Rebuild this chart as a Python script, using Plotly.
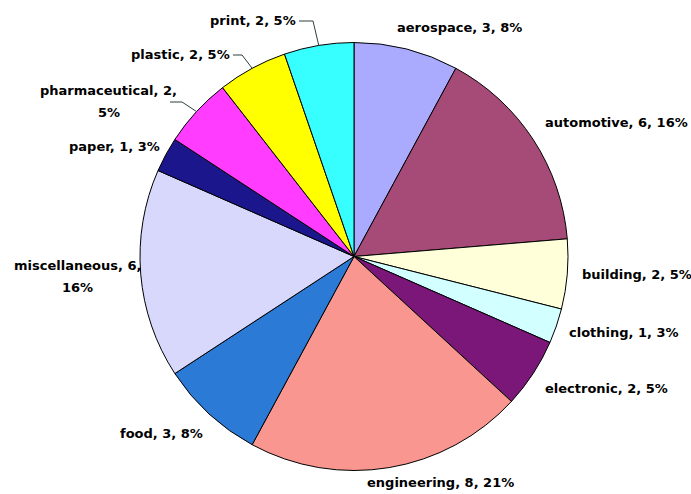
import math
import plotly.graph_objects as go

# Number of companies per industry sector
sectors = ["aerospace", "automotive", "building", "clothing", "electronic",
           "engineering", "food", "miscellaneous", "paper", "pharmaceutical",
           "plastic", "print"]
counts = [3, 6, 2, 1, 2, 8, 3, 6, 1, 2, 2, 2]

colors = ["#AAAAFF", "#A64A78", "#FFFFDA", "#D2FFFF", "#7B1778", "#FA9690",
          "#2B7BD6", "#D8D8FC", "#1C168C", "#FF3CFF", "#FFFF00", "#38FFFF"]

W, H = 691, 494
CX, CY, R = 354, 256.5, 214  # pie centre and radius in pixels

# label placement: (x px, y px of first line, x anchor, wrap after 2nd comma, leader elbow x)
label_layout = {
    "aerospace":      (459.5, 28, "center", False, None),
    "automotive":     (543, 123, "left", False, None),
    "building":       (580, 274, "left", False, None),
    "clothing":       (567, 332, "left", False, None),
    "electronic":     (543, 388, "left", False, None),
    "engineering":    (440.5, 482, "center", False, None),
    "food":           (205, 433, "right", False, None),
    "miscellaneous":  (77.5, 265, "center", True, None),
    "paper":          (162, 146, "right", False, None),
    "pharmaceutical": (108.5, 90, "center", True, 182),
    "plastic":        (232, 54, "right", False, 242),
    "print":          (298, 20, "right", False, 313),
}
LINE_PITCH = 22
FONT = dict(family="DejaVu Sans", size=13, color="#000000")


def px(x):
    return x / W


def py(y):
    return 1 - y / H


total = sum(counts)

fig = go.Figure(go.Pie(
    labels=sectors,
    values=counts,
    sort=False,
    direction="clockwise",
    rotation=0,
    textinfo="none",
    hoverinfo="label+value+percent",
    marker=dict(colors=colors, line=dict(color="#000000", width=1)),
    domain=dict(x=[px(CX - R), px(CX + R)], y=[py(CY + R), py(CY - R)]),
    showlegend=False,
))

annotations = []
shapes = []
cum = 0
for name, val in zip(sectors, counts):
    mid = (cum + val / 2) / total * 2 * math.pi
    cum += val
    pct = round(val / total * 100)
    x, y, anchor, wrap, elbow = label_layout[name]
    if wrap:
        lines = [f"{name}, {val},", f"{pct}%"]
    else:
        lines = [f"{name}, {val}, {pct}%"]
    for i, line in enumerate(lines):
        annotations.append(dict(
            x=px(x), y=py(y + i * LINE_PITCH), xref="paper", yref="paper",
            text=f"<b>{line}</b>", showarrow=False, font=FONT,
            xanchor=anchor, yanchor="middle",
        ))
    if elbow is not None:
        # leader line from label to the slice's outer edge
        ex = CX + R * math.sin(mid)
        ey = CY - R * math.cos(mid)
        if anchor == "center":
            sx = 170
            sy = y + LINE_PITCH / 2 + 1
        else:
            sx = x + 1
            sy = y + 1
        path = (f"M {px(sx)},{py(sy)} L {px(elbow)},{py(sy)} "
                f"L {px(ex)},{py(ey)}")
        shapes.append(dict(type="path", path=path, xref="paper", yref="paper",
                           line=dict(color="#2F3F3F", width=1)))

fig.update_layout(
    width=W, height=H,
    margin=dict(l=0, r=0, t=0, b=0),
    paper_bgcolor="#FFFFFF",
    plot_bgcolor="#FFFFFF",
    annotations=annotations,
    shapes=shapes,
)

fig.write_html("out.html")
